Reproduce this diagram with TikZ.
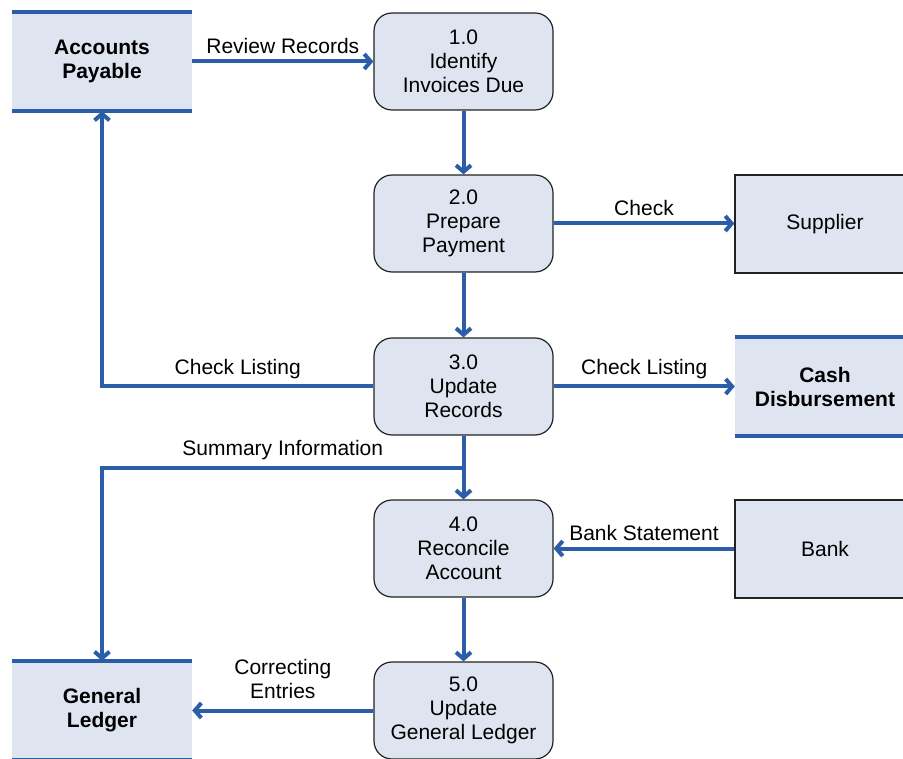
\documentclass[tikz,border=0pt]{standalone}
\usepackage{fontspec}
\setmainfont{Liberation Sans}
\usetikzlibrary{arrows.meta}
\definecolor{flowblue}{HTML}{2B5DA8}
\definecolor{boxfill}{HTML}{DEE5F0}
\definecolor{boxedge}{HTML}{222222}
\begin{document}
\begin{tikzpicture}[x=1pt,y=-1pt,
  every node/.style={font=\fontsize{21}{24}\selectfont},
  process/.style={draw=boxedge, line width=1.2pt, fill=boxfill, rounded corners=18pt,
    minimum width=179pt, minimum height=97pt, align=center, inner sep=0pt},
  entity/.style={draw=boxedge, line width=1.2pt, fill=boxfill,
    minimum width=180pt, minimum height=98pt, align=center, inner sep=0pt},
  datastore/.style={fill=boxfill, minimum width=180pt, minimum height=99pt,
    align=center, inner sep=0pt, font=\fontsize{21}{24}\selectfont\bfseries},
  storeline/.style={draw=flowblue, line width=4pt},
  flow/.style={draw=flowblue, line width=4pt, -{Straight Barb[length=6.5pt,width=15pt]}},
  flowlabel/.style={inner sep=6pt}
]
\useasboundingbox (0,0) rectangle (903,759);
\clip (0,0) rectangle (903,759);

% processes
\node[process] (p1) at (463.5,61.5) {1.0\\Identify\\Invoices Due};
\node[process] (p2) at (463.5,223.5) {2.0\\Prepare\\Payment};
\node[process] (p3) at (463.5,386.5) {3.0\\Update\\Records};
\node[process] (p4) at (463.5,548.5) {4.0\\Reconcile\\Account};
\node[process] (p5) at (463.5,710.5) {5.0\\Update\\General Ledger};

% external entities
\node[entity] (sup) at (825,224) {Supplier};
\node[entity] (bank) at (825,549) {Bank};

% data stores
\node[datastore] (ap) at (102,61.5) {Accounts\\Payable};
\node[datastore] (cash) at (825,386.5) {Cash\\Disbursement};
\node[datastore] (gl) at (102,710.5) {General\\Ledger};
\foreach \s in {ap,cash,gl}{
  \draw[storeline] (\s.north west) -- (\s.north east);
  \draw[storeline] (\s.south west) -- (\s.south east);
}

% data flows
\draw[flow] (ap.east |- p1.west) -- node[flowlabel, above] {Review Records} (p1.west);
\draw[flow] (p1.south) -- (p2.north);
\draw[flow] (p2.east) -- node[flowlabel, above] {Check} (sup.west |- p2.east);
\draw[flow] (p2.south) -- (p3.north);
\draw[flow] (p3.east) -- node[flowlabel, above] {Check Listing} (cash.west |- p3.east);
\draw[flow] (p3.west) -- node[flowlabel, above, pos=0.5] {Check Listing} (ap.south |- p3.west) -- (ap.south);
\coordinate (split) at (463.5,468);
\draw[flow] (p3.south) -- (p4.north);
\draw[flow] (split) -- node[flowlabel, above, pos=0.5] {Summary Information} (gl.north |- split) -- (gl.north);
\draw[flow] (bank.west |- p4.east) -- node[flowlabel, above] {Bank Statement} (p4.east);
\draw[flow] (p4.south) -- (p5.north);
\draw[flow] (p5.west) -- node[flowlabel, above, align=center, inner sep=10pt] {Correcting\\Entries} (gl.east |- p5.west);
\end{tikzpicture}
\end{document}
